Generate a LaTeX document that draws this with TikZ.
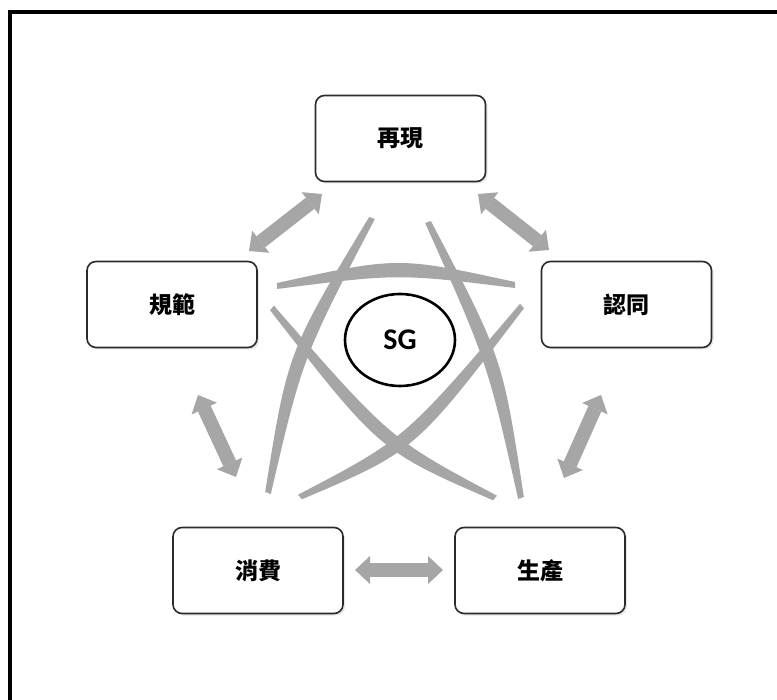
\documentclass[tikz,border=0pt]{standalone}
\usepackage{fontspec}
\newfontfamily\cjk{Noto Sans CJK TC}
\newfontfamily\sgfont{Carlito}
\usetikzlibrary{arrows.meta,calc,shadows,shapes.geometric}
\definecolor{stargray}{HTML}{A6A6A6}
\definecolor{boxline}{HTML}{2B2B2B}
\tikzset{
  box/.style={draw=boxline, line width=1.6pt, rounded corners=9pt,
    minimum width=170pt, minimum height=86pt, fill=white,
    font=\cjk\bfseries\fontsize{23}{23}\selectfont,
    drop shadow={shadow xshift=2pt, shadow yshift=-2pt, opacity=0.18}},
  dbl/.style={draw=stargray, line width=14pt,
    {Triangle[width=28pt,length=15pt,line width=0pt]}-{Triangle[width=28pt,length=15pt,line width=0pt]}},
  starfill/.style={fill=stargray},
  sgnode/.style={draw=black, ellipse, line width=2.6pt, minimum width=110pt,
    minimum height=92pt, inner sep=0pt, fill=white,
    font=\sgfont\bfseries\fontsize{30}{30}\selectfont},
}
\newcommand{\starstroke}[4]{%
  \coordinate (sa) at (#1);
  \coordinate (sb) at (#2);
  \coordinate (sc) at (#3);
  \coordinate (pe) at ($(sa)!3pt!90:(sb)$);
  \coordinate (qe) at ($(sa)!3pt!-90:(sb)$);
  \coordinate (pd) at ($(sa)!#4!90:(sb)$);
  \coordinate (qd) at ($(sa)!#4!-90:(sb)$);
  \fill[starfill] (pe) .. controls ($(sc)+(pd)-(sa)$) .. ($(sb)+(pe)-(sa)$)
     -- ($(sb)+(qe)-(sa)$) .. controls ($(sc)+(qd)-(sa)$) .. (qe) -- cycle;
}
\begin{document}
\begin{tikzpicture}[x=1pt,y=-1pt]
\useasboundingbox (0,0) rectangle (777,700);
\fill[white] (0,0) rectangle (777,700);
\draw[line width=4pt] (9.5,700) -- (9.5,12) -- (777,12);

% star strokes
\starstroke{277,286}{515,285}{398,265}{8.5pt}
\starstroke{372,218}{268,493}{295,355}{8pt}
\starstroke{428,222}{521,498}{495,360}{8pt}
\starstroke{272,308}{495,498}{385,445}{8pt}
\starstroke{522,306}{300,497}{410,445}{8pt}

% boxes
\node[box] (top) at (400.5,138.5) {再現};
\node[box] (left) at (172,304.5) {規範};
\node[box] (right) at (626.5,304.5) {認同};
\node[box] (bl) at (258,570.5) {消費};
\node[box] (br) at (540,570.5) {生產};

\node[sgnode] (sg) at (400,340) {SG};

% double arrows
\coordinate (a1) at (322,194);
\coordinate (a2) at (249,251);
\coordinate (b1) at (478,194);
\coordinate (b2) at (549,250);
\coordinate (c1) at (198,395);
\coordinate (c2) at (236,477);
\coordinate (d1) at (601,395);
\coordinate (d2) at (564,478);
\coordinate (e1) at (355,570);
\coordinate (e2) at (443,570);
\draw[dbl] (a1) -- (a2);
\draw[dbl] (b1) -- (b2);
\draw[dbl] (c1) -- (c2);
\draw[dbl] (d1) -- (d2);
\draw[dbl] (e1) -- (e2);
\end{tikzpicture}
\end{document}
